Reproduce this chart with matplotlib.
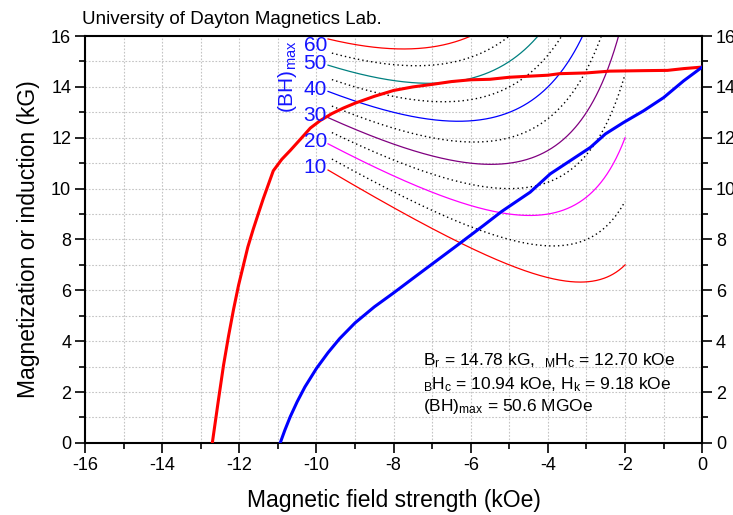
import numpy as np
import matplotlib
matplotlib.use("Agg")
import matplotlib.pyplot as plt
from matplotlib.ticker import MultipleLocator

plt.rcParams['font.family'] = ['Liberation Sans', 'DejaVu Sans']
plt.rcParams['mathtext.fontset'] = 'custom'
plt.rcParams['mathtext.rm'] = 'Liberation Sans'
plt.rcParams['mathtext.it'] = 'Liberation Sans:italic'
plt.rcParams['axes.unicode_minus'] = False

# --- data ---
# intrinsic curve 4piM (kG) vs H (kOe)
h_m = [-12.70, -12.55, -12.41, -12.28, -12.15, -12.02, -11.90, -11.78,
       -11.64, -11.50, -11.38, -11.25, -11.12, -10.90, -10.68, -10.40, -10.16,
       -9.90, -9.60, -9.30, -9.00, -8.50, -8.00, -7.50, -7.00, -6.50, -6.00,
       -5.50, -5.00, -4.50, -4.00, -3.70, -3.00, -2.40, -1.50, -0.90, -0.48, 0.0]
m_vals = [0.0, 1.60, 3.05, 4.20, 5.25, 6.20, 6.95, 7.70,
          8.40, 9.05, 9.60, 10.15, 10.70, 11.15, 11.50, 11.97, 12.38,
          12.68, 12.95, 13.17, 13.36, 13.63, 13.86, 14.00, 14.10, 14.21, 14.28,
          14.30, 14.38, 14.42, 14.46, 14.52, 14.55, 14.62, 14.64, 14.65, 14.72, 14.78]

# normal curve B (kG) vs H (kOe)
h_b = [-10.94, -10.82, -10.68, -10.50, -10.30, -10.00, -9.70, -9.40, -9.00,
       -8.50, -8.00, -7.50, -7.05, -6.36, -5.67, -5.20, -4.46, -3.94, -3.42,
       -2.90, -2.51, -2.04, -1.52, -1.00, -0.48, 0.0]
b_vals = [0.0, 0.50, 1.03, 1.62, 2.20, 2.93, 3.55, 4.10, 4.72,
          5.35, 5.90, 6.47, 6.98, 7.76, 8.55, 9.10, 9.86, 10.58, 11.10,
          11.62, 12.15, 12.60, 13.06, 13.58, 14.24, 14.78]

# (BH)max contours, MGOe
bh_levels = [10, 20, 30, 40, 50, 60]
bh_colors = ['#ff0000', '#ff00ff', '#800080', '#0000ff', '#008080', '#ff0000']
bh_dotted = [15, 25, 35, 45, 55]

fig = plt.figure(figsize=(7.33, 5.15), dpi=100)
ax = fig.add_axes([0.116, 0.140, 0.842, 0.790])

# iso-(BH) lines in 4piM coordinates: 4piM = BH/|H| + |H|
for lev, col in zip(bh_levels, bh_colors):
    hh = np.linspace(-9.7, -2.0, 300)
    ax.plot(hh, lev / np.abs(hh) + np.abs(hh), color=col, lw=0.9, zorder=2)
    y0 = min(lev / 9.7 + 9.7 + 0.08, 15.62)
    ax.text(-9.73, y0, str(lev), color='#1515ff',
            fontsize=15, ha='right', va='center', zorder=4)
for lev in bh_dotted:
    hh = np.linspace(-9.6, -2.0, 300)
    ax.plot(hh, lev / np.abs(hh) + np.abs(hh), color='black', lw=1.0,
            ls=(0, (1, 2.2)), zorder=2)

ax.text(-10.74, 14.4, r'(BH)$_{\mathrm{max}}$', color='#1515ff', fontsize=15,
        rotation=90, ha='center', va='center', zorder=4)

ax.plot(h_m, m_vals, color='#ff0000', lw=2.2, zorder=3)
ax.plot(h_b, b_vals, color='#0000ff', lw=2.2, zorder=3)

ax.text(-7.25, 3.22, r'B$_{\mathrm{r}}$ = 14.78 kG,  ${}_{\mathrm{M}}$H$_{\mathrm{c}}$ = 12.70 kOe',
        fontsize=12.5, ha='left', va='center', zorder=5)
ax.text(-7.25, 2.31, r'${}_{\mathrm{B}}$H$_{\mathrm{c}}$ = 10.94 kOe, H$_{\mathrm{k}}$ = 9.18 kOe',
        fontsize=12.5, ha='left', va='center', zorder=5)
ax.text(-7.25, 1.45, r'(BH)$_{\mathrm{max}}$ = 50.6 MGOe',
        fontsize=12.5, ha='left', va='center', zorder=5)

ax.set_xlim(-16, 0)
ax.set_ylim(0, 16)
ax.xaxis.set_major_locator(MultipleLocator(2))
ax.xaxis.set_minor_locator(MultipleLocator(1))
ax.yaxis.set_major_locator(MultipleLocator(2))
ax.yaxis.set_minor_locator(MultipleLocator(1))
ax.grid(True, which='both', color='#c4c4c4', lw=0.8, ls=(0, (1.5, 1.5)), zorder=0)
ax.set_axisbelow(True)

ax.tick_params(which='both', direction='out', labelsize=13, right=True,
               labelright=True, top=False, width=1.2)
ax.tick_params(which='major', length=7, pad=3)
ax.tick_params(which='minor', length=4)
for sp in ax.spines.values():
    sp.set_linewidth(1.5)

ax.set_xlabel('Magnetic field strength (kOe)', fontsize=16.5, labelpad=11)
ax.set_ylabel('Magnetization or induction (kG)', fontsize=16.5, labelpad=8)
fig.text(0.112, 0.962, 'University of Dayton Magnetics Lab.', fontsize=13.5,
         ha='left', va='center')

fig.savefig('out.png', dpi=100)
